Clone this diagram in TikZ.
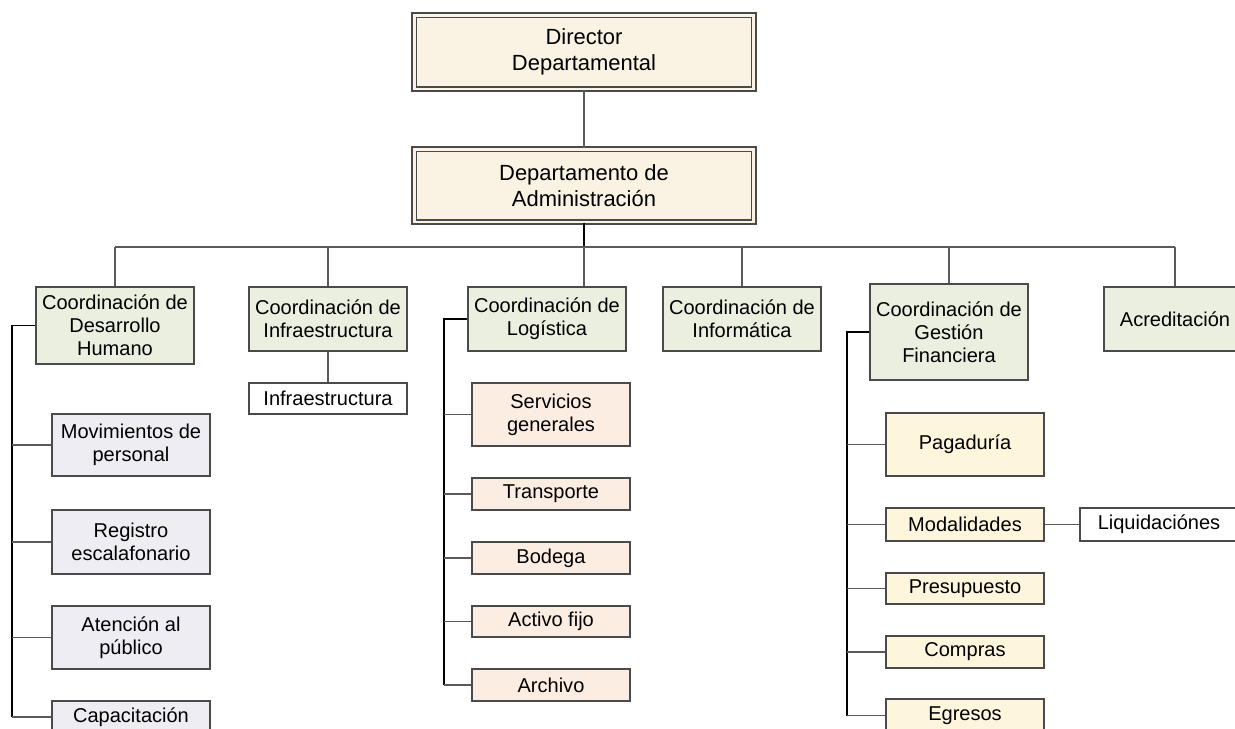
\documentclass[tikz,border=0pt]{standalone}
\usepackage{fontspec}
\setmainfont{Liberation Sans}
\definecolor{boxline}{HTML}{4A4A4A}
\definecolor{linkgray}{HTML}{5A5A5A}
\definecolor{creamfill}{HTML}{FAF3E4}
\definecolor{coordfill}{HTML}{EBEFDF}
\definecolor{staffill}{HTML}{EEEDF3}
\definecolor{logfill}{HTML}{FCEDE3}
\definecolor{finfill}{HTML}{FEF5DD}
% box given by its corners in pixel units: style, name, x1, y1, x2, y2, text
\newcommand\orgnode[7]{%
  \node[#1, minimum width={(#5-#3)*0.56906pt}, minimum height={(#6-#4)*0.56906pt}]
    (#2) at ({(#3+#5)/2},{(#4+#6)/2}) {#7};}
\begin{document}
\begin{tikzpicture}[x=0.02cm,y=-0.02cm,
  base/.style={draw=boxline, line width=0.6pt, inner sep=1pt, align=center,
    font=\fontsize{11.4}{13.2}\selectfont},
  topbox/.style={base, fill=creamfill, double=creamfill, double distance=1.7pt,
    font=\fontsize{12.5}{15}\selectfont},
  coordbox/.style={base, fill=coordfill},
  staffbox/.style={base, fill=staffill},
  logbox/.style={base, fill=logfill},
  finbox/.style={base, fill=finfill},
  plainbox/.style={base, fill=white},
  link/.style={draw=linkgray, line width=0.6pt},
  trunk/.style={draw=black, line width=0.8pt}]
\useasboundingbox[fill=white] (0,0) rectangle (1235,728);

% top of the chart
\orgnode{topbox}{dir}{414}{15}{754}{89}{Director\\Departamental}
\orgnode{topbox}{dept}{414}{149}{754}{222}{Departamento de\\Administración}

% coordinations
\orgnode{coordbox}{cdh}{36}{287}{194}{364}{Coordinación de\\Desarrollo\\Humano}
\orgnode{coordbox}{ci}{249}{287}{407}{351}{Coordinación de\\Infraestructura}
\orgnode{coordbox}{cl}{468}{287}{626}{351}{Coordinación de\\Logística}
\orgnode{coordbox}{cinf}{663}{287}{821}{351}{Coordinación de\\Informática}
\orgnode{coordbox}{cgf}{870}{284}{1028}{380}{Coordinación de\\Gestión\\Financiera}
\orgnode{coordbox}{acr}{1104}{287}{1246}{351}{Acreditación}

% human development units
\orgnode{staffbox}{mov}{52}{414}{210}{476}{Movimientos de\\personal}
\orgnode{staffbox}{reg}{52}{510}{210}{574}{Registro\\escalafonario}
\orgnode{staffbox}{ate}{52}{606}{210}{669}{Atención al\\público}
\orgnode{staffbox}{cap}{52}{701}{210}{733}{Capacitación}

% infrastructure unit
\orgnode{plainbox}{infra}{249}{383}{407}{414}{Infraestructura}

% logistics units
\orgnode{logbox}{serv}{472}{383}{630}{446}{Servicios\\generales}
\orgnode{logbox}{trans}{472}{478}{630}{510}{Transporte}
\orgnode{logbox}{bod}{472}{542}{630}{574}{Bodega}
\orgnode{logbox}{act}{472}{606}{630}{637}{Activo fijo}
\orgnode{logbox}{arch}{472}{669}{630}{701}{Archivo}

% financial units
\orgnode{finbox}{pag}{886}{413}{1044}{476}{Pagaduría}
\orgnode{finbox}{mod}{886}{508}{1044}{541}{Modalidades}
\orgnode{plainbox}{liq}{1080}{508}{1238}{541}{Liquidaciónes}
\orgnode{finbox}{pre}{886}{573}{1044}{604}{Presupuesto}
\orgnode{finbox}{com}{886}{636}{1044}{668}{Compras}
\orgnode{finbox}{egr}{886}{699}{1044}{732}{Egresos}

% connectors
\coordinate (bus) at (0,247);
\draw[link] (dir.south) -- (dept.north);
\draw[trunk, line width=1.1pt] (dept.south) -- (dept.south |- bus);
\draw[link] (cdh.north |- bus) -- (acr.north |- bus);
\foreach \n in {cdh,ci,cinf,cgf,acr}
  \draw[link] (\n.north) -- (\n.north |- bus);
\draw[link] (cl.north -| dept.south) -- (dept.south |- bus);
\draw[link] (ci.south) -- (infra.north);
\draw[link] (mod.east) -- (liq.west);

% side trunks with their branches
\coordinate (dhx) at (12,0);
\draw[trunk] (cdh.west) -| (cap.west -| dhx);
\foreach \n in {mov,reg,ate,cap}
  \draw[link] (\n.west -| dhx) -- (\n.west);

\coordinate (lgx) at (444,0);
\draw[trunk] (cl.west) -| (arch.west -| lgx);
\foreach \n in {serv,trans,bod,act,arch}
  \draw[link] (\n.west -| lgx) -- (\n.west);

\coordinate (fgx) at (847,0);
\draw[trunk] (cgf.west) -| (egr.west -| fgx);
\foreach \n in {pag,mod,pre,com,egr}
  \draw[link] (\n.west -| fgx) -- (\n.west);
\end{tikzpicture}
\end{document}
